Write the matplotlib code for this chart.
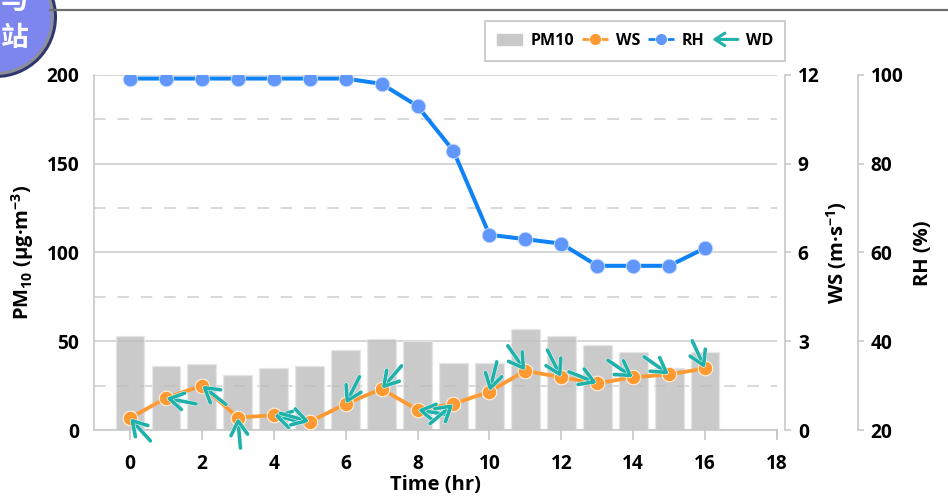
import numpy as np
import matplotlib
matplotlib.use('Agg')
import matplotlib.pyplot as plt
import matplotlib.patheffects as pe
from matplotlib.legend_handler import HandlerPatch
from matplotlib.lines import Line2D
from matplotlib.patches import Circle, FancyArrowPatch, Patch

plt.rcParams['font.family'] = ['Open Sans', 'Noto Sans CJK SC', 'DejaVu Sans']
plt.rcParams['font.weight'] = 'bold'
plt.rcParams['mathtext.default'] = 'regular'

hours = list(range(17))
pm10 = [53, 36, 37, 31, 35, 36, 45, 51, 50, 38, 38, 57, 53, 48, 44, 35, 44]
ws = [0.4, 1.08, 1.5, 0.42, 0.5, 0.28, 0.88, 1.39, 0.68, 0.88, 1.3, 2.0, 1.78, 1.58, 1.78, 1.88, 2.08]
rh = [99.2, 99.2, 99.2, 99.2, 99.2, 99.2, 99.2, 98, 93, 82.9, 64, 63, 62, 57, 57, 57, 61]
# bearing the wind comes from, degrees clockwise from north
wd = [138, 101, 128, 175, 104, 286, 27, 41, 99, 230, 14, 325, 333, 292, 304, 305, 335]

W, H = 948, 498
ORANGE = '#ff9a33'
BLUE = '#0f83f5'
DOT = '#6197fb'
TEAL = '#20b2aa'
TICK_SIZE = 13.8
LABEL_SIZE = 14.5

fig = plt.figure(figsize=(W / 100, H / 100), dpi=100)
ax = fig.add_axes([94 / W, (H - 430) / H, 683 / W, 355 / H])
ax2 = ax.twinx()
ax3 = ax.twinx()

# bars and the grid
ax.bar(hours, pm10, width=0.8, color='#bdbdbd', alpha=0.8, edgecolor='#e6e6e6', linewidth=1, zorder=2)
ax.set_xlim(-1, 18)
ax.set_ylim(0, 200)
ax.set_xticks(range(0, 19, 2))
ax.set_yticks(range(0, 201, 50))
ax.set_yticks(range(25, 200, 50), minor=True)
ax.set_axisbelow(True)
ax.grid(axis='y', which='major', color='#cfcfcf', lw=1.2)
ax.grid(axis='y', which='minor', color='#d2d2d2', lw=1.2, dashes=(7, 7))
ax.tick_params(axis='y', which='both', length=0, pad=10.5, labelsize=TICK_SIZE)
ax.tick_params(axis='x', length=7, color='#c8c8c8', width=1.2, pad=10, labelsize=TICK_SIZE)

for side in ['top', 'right']:
    ax.spines[side].set_visible(False)
for side in ['left', 'bottom']:
    ax.spines[side].set_color('#c8c8c8')
    ax.spines[side].set_linewidth(1.2)
ax.plot([1, 1], [0, -0.022], color='#c8c8c8', lw=1.2, transform=ax.transAxes, clip_on=False)

# the two right hand scales
ax2.set_ylim(0, 12)
ax2.set_yticks([0, 3, 6, 9, 12])
ax3.set_ylim(20, 100)
ax3.set_yticks([20, 40, 60, 80, 100])
for a, out in [(ax2, 6), (ax3, 58.5)]:
    for side in ['top', 'left', 'bottom']:
        a.spines[side].set_visible(False)
    a.spines['right'].set_position(('outward', out))
    a.spines['right'].set_color('#c8c8c8')
    a.spines['right'].set_linewidth(1.2)
    a.tick_params(axis='y', length=4, color='#c8c8c8', width=1.2, pad=5, labelsize=TICK_SIZE)

ax2.plot(hours, ws, color=ORANGE, lw=2.7, marker='o', ms=10.5, mfc=ORANGE, mec='#fff2e2', mew=0.8, zorder=3)
ax3.plot(hours, rh, color=BLUE, lw=2.9, marker='o', ms=10.5, mfc=DOT, mec='#cfe0ff', mew=0.6, zorder=3)

# wind arrows end on the WS points, length is fixed
arrow_len = 22
for h, s, d in zip(hours, ws, wd):
    off = (arrow_len * np.sin(np.radians(d)), arrow_len * np.cos(np.radians(d)))
    ax2.annotate('', xy=(h, s), xytext=off, textcoords='offset points', annotation_clip=False,
                 arrowprops=dict(arrowstyle='->,head_length=1.0,head_width=0.6', color=TEAL, lw=2.6,
                                 shrinkA=0, shrinkB=0,
                                 path_effects=[pe.withStroke(linewidth=3.2, foreground='white')]), zorder=4)

# labels
ax.set_xlabel('Time (hr)', fontsize=LABEL_SIZE, fontweight='bold')
ax.xaxis.set_label_coords((435 - 94) / 683, -0.155, transform=ax.transAxes)
ax.xaxis.label.set_va('center')
ax.set_ylabel('PM$_{10}$ (μg·m$^{-3}$)', fontsize=LABEL_SIZE, fontweight='bold')
ax.yaxis.set_label_coords((23 - 94) / 683, (430 - 252) / 355, transform=ax.transAxes)
ax.yaxis.label.set_va('center')
ax2.set_ylabel('WS (m·s$^{-1}$)', fontsize=LABEL_SIZE, fontweight='bold')
ax2.yaxis.set_label_coords((837 - 94) / 683, (430 - 253) / 355, transform=ax2.transAxes)
ax2.yaxis.label.set_va('center')
ax3.set_ylabel('RH (%)', fontsize=LABEL_SIZE, fontweight='bold')
ax3.yaxis.set_label_coords((923 - 94) / 683, (430 - 253) / 355, transform=ax3.transAxes)
ax3.yaxis.label.set_va('center')


class ArrowHandler(HandlerPatch):
    def create_artists(self, legend, orig, xd, yd, width, height, fontsize, trans):
        y = height / 2 - yd
        return [FancyArrowPatch((width - xd, y), (-xd, y), transform=trans, color=TEAL, lw=2.2,
                                arrowstyle='->,head_length=7,head_width=4.5', shrinkA=0, shrinkB=0)]


handles = [Patch(color='#c9c9c9'),
           Line2D([], [], color=ORANGE, lw=2, ls=(0, (2.5, 1)), marker='o', ms=7, mfc=ORANGE, mec=ORANGE),
           Line2D([], [], color=BLUE, lw=2, ls=(0, (2.5, 1)), marker='o', ms=7, mfc=DOT, mec=DOT),
           FancyArrowPatch((0, 0), (1, 0))]
leg = fig.legend(handles, ['PM10', 'WS', 'RH', 'WD'], loc='center',
                 bbox_to_anchor=(635 / W, (H - 41) / H), ncol=4, fontsize=11.5,
                 handlelength=1.6, handletextpad=0.5, columnspacing=0.5, borderpad=0.75,
                 fancybox=False, framealpha=1, edgecolor='#c4c4c4',
                 handler_map={FancyArrowPatch: ArrowHandler()})
leg.get_frame().set_linewidth(1.2)

# header rule and the clipped badge in the corner
fig.add_artist(Line2D([50 / W, 1], [(H - 10) / H] * 2, color='#6e6e6e', lw=1.6))
badge = fig.add_axes([0, (H - 85) / H, 62 / W, 85 / H])
badge.set_xlim(0, 62)
badge.set_ylim(85, 0)
badge.axis('off')
badge.add_patch(Circle((-4, 17), 61, fc='#2f3672', ec='none'))
badge.add_patch(Circle((-4, 17), 58, fc='#8d8e96', ec='none'))
badge.add_patch(Circle((-4, 17), 55, fc='#7d86ee', ec='none'))
badge.text(14.5, 1, '与', color='white', fontsize=20, ha='center', va='center', fontweight='bold')
badge.text(14.5, 39, '站', color='white', fontsize=20, ha='center', va='center', fontweight='bold')

fig.savefig('out.png', dpi=100)
